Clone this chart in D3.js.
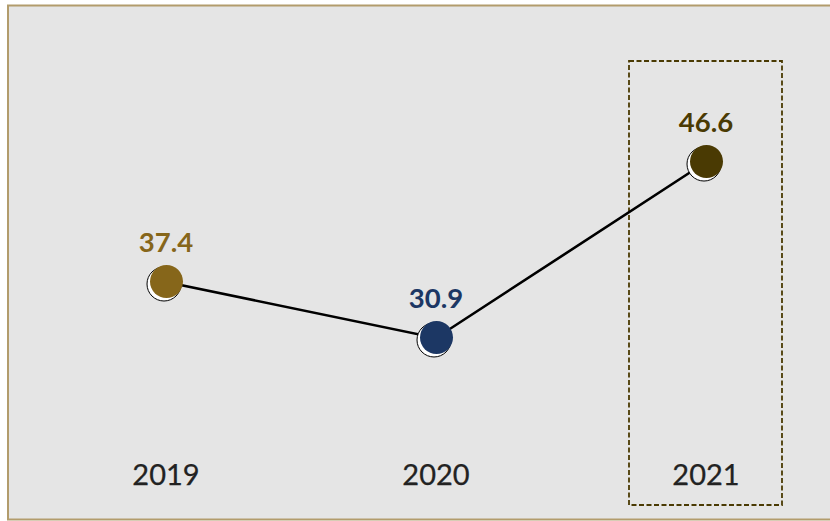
<!DOCTYPE html>
<html>
<head>
<meta charset="utf-8">
<script src="https://cdn.jsdelivr.net/npm/d3@7"></script>
<style>
  body { margin: 0; background: #fff; }
  text { font-family: Lato, "Open Sans", sans-serif; }
</style>
</head>
<body>
<div id="chart"></div>
<script>
"use strict";

const years = ["2019", "2020", "2021"];
const values = [37.4, 30.9, 46.6];
const pointColors = ["#86661a", "#1c3764", "#4a3a03"];
const highlightYear = "2021";

const width = 830,
    height = 521;

const svg = d3.select("#chart")
    .append("svg")
    .attr("width", width)
    .attr("height", height);

// frame
svg.append("rect")
    .attr("x", 8)
    .attr("y", 5.5)
    .attr("width", 840)
    .attr("height", 514)
    .attr("fill", "#e5e5e5")
    .attr("stroke", "#b29c6c")
    .attr("stroke-width", 2);

const x = d3.scalePoint()
    .domain(years)
    .range([166, 706]);

// y positions are not linear in the picture, a cubic scale fits them
const y = d3.scalePow()
    .exponent(3)
    .domain([0, 50])
    .range([410.4, 103.6]);

// highlight box
svg.append("rect")
    .attr("x", x(highlightYear) - 77)
    .attr("y", 61)
    .attr("width", 153)
    .attr("height", 444)
    .attr("fill", "none")
    .attr("stroke", "#4a3a03")
    .attr("stroke-width", 1.8)
    .attr("stroke-dasharray", "5,2.5");

const data = years.map((d, i) => ({ year: d, value: values[i], color: pointColors[i] }));

const line = d3.line()
    .x(d => x(d.year))
    .y(d => y(d.value));

svg.append("path")
    .datum(data)
    .attr("d", line)
    .attr("fill", "none")
    .attr("stroke", "#000")
    .attr("stroke-width", 2.6);

const pts = svg.append("g").selectAll("g")
    .data(data)
    .enter()
    .append("g");

// sketchy outline behind the dot
pts.append("circle")
    .attr("cx", d => x(d.year) - 2)
    .attr("cy", d => y(d.value) + 2)
    .attr("r", 17)
    .attr("fill", "#fff")
    .attr("stroke", "#000")
    .attr("stroke-width", 1);

pts.append("circle")
    .attr("cx", d => x(d.year) + 0.5)
    .attr("cy", d => y(d.value) - 0.5)
    .attr("r", 16.5)
    .attr("fill", d => d.color);

pts.append("text")
    .attr("x", d => x(d.year))
    .attr("y", d => y(d.value) - 30)
    .attr("text-anchor", "middle")
    .attr("font-size", 27.5)
    .attr("font-weight", "bold")
    .attr("fill", d => d.color)
    .text(d => d.value.toFixed(1));

// year labels
svg.append("g").selectAll("text")
    .data(years)
    .enter()
    .append("text")
    .attr("x", d => x(d))
    .attr("y", 485)
    .attr("text-anchor", "middle")
    .attr("font-size", 29)
    .attr("fill", "#222")
    .attr("stroke", "#222")
    .attr("stroke-width", 0.25)
    .text(d => d);
</script>
</body>
</html>
